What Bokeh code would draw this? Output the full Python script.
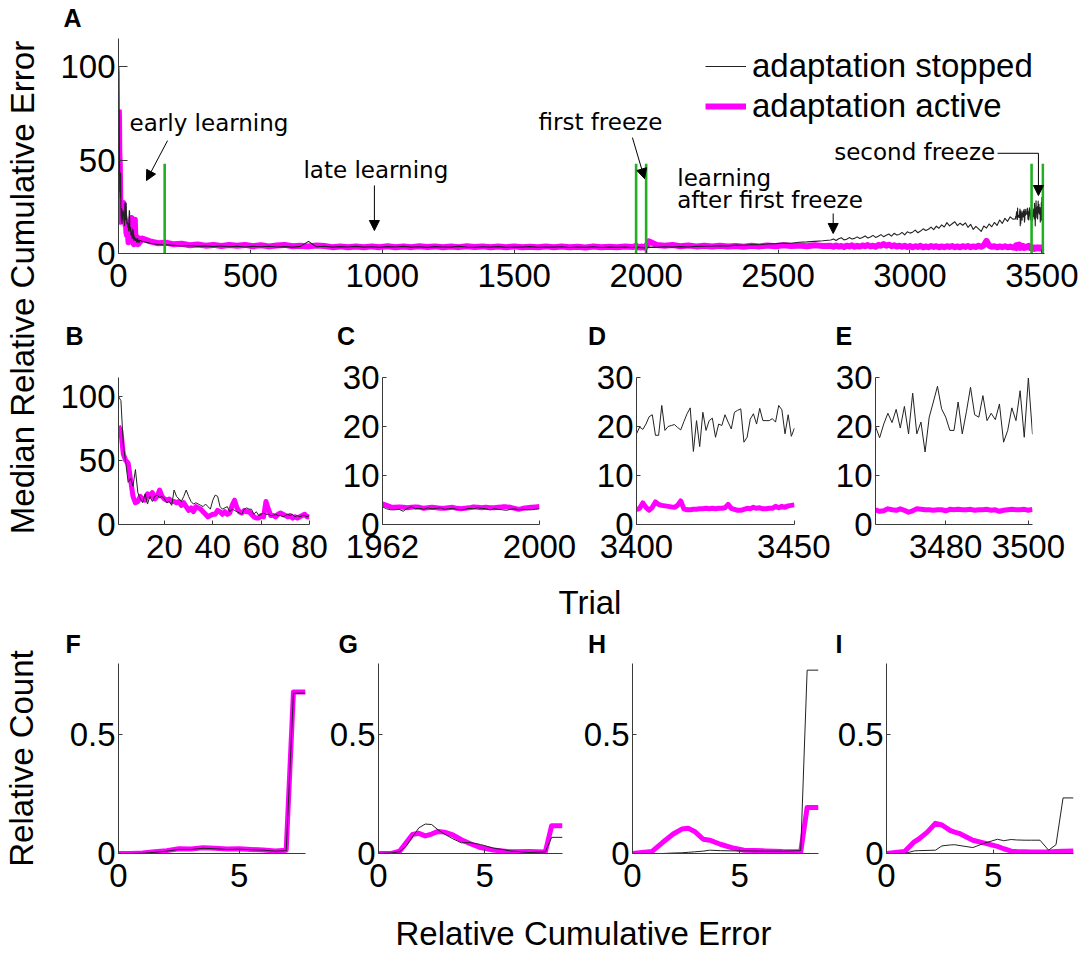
import numpy as np
from bokeh.plotting import figure
from bokeh.layouts import row, column
from bokeh.models import Range1d, FixedTicker, Legend, LegendItem, Arrow, NormalHead
from bokeh.core.properties import value
from bokeh.embed import file_html
from bokeh.resources import INLINE

# ---------------- data ----------------
# Panel B: trials 1-80 (median relative cumulative error)
b_trials = list(range(1, 81))
b_stopped = [100, 97, 62, 48, 33, 36, 30, 43, 25, 20,
             17, 24, 16, 22, 18, 22, 23, 21, 22, 20,
             17, 18, 15, 27, 22, 20, 18, 22, 27, 22,
             18, 16, 17, 16, 15, 14, 16, 14, 12, 19,
             23, 22, 14, 12, 13, 14, 10, 12, 11, 10,
             9, 8, 12, 13, 12, 12, 8, 10, 7, 8,
             9, 8, 8, 7, 7, 8, 7, 7, 6, 7,
             8, 7, 8, 6, 7, 6, 7, 7, 6, 7]
b_active = [77, 73, 55, 50, 48, 35, 22, 17, 18, 22,
            20, 19, 24, 22, 25, 20, 22, 27, 22, 20,
            19, 20, 18, 18, 17, 18, 15, 17, 14, 11,
            13, 10, 14, 13, 12, 10, 8, 6, 7, 8,
            8, 11, 10, 8, 10, 8, 9, 15, 19, 13,
            10, 9, 11, 10, 10, 8, 6, 5, 5, 7,
            6, 18, 12, 7, 7, 6, 8, 9, 8, 7,
            6, 7, 5, 6, 5, 6, 7, 8, 6, 6]

# Panel C: trials 1962-2000
c_trials = list(range(1962, 2001))
c_stopped = [3.6, 3.2, 3.0, 3.0, 3.1, 2.7, 3.3, 3.6, 3.2, 3.3,
             3.1, 3.4, 3.2, 3.3, 3.4, 3.1, 3.2, 3.3, 3.1, 3.0,
             3.1, 3.3, 3.2, 3.4, 3.3, 3.2, 3.0, 3.2, 3.1, 3.0,
             2.9, 3.1, 3.2, 3.0, 3.1, 3.0, 3.0, 3.1, 3.2]
c_active = [4.2, 3.9, 3.6, 3.5, 3.6, 3.5, 3.4, 3.5, 3.6, 3.5,
            3.3, 3.4, 3.5, 3.4, 3.3, 3.3, 3.4, 3.5, 3.3, 3.2,
            3.3, 3.4, 3.6, 3.5, 3.4, 3.5, 3.4, 3.4, 3.5, 3.6,
            3.6, 3.5, 3.3, 3.1, 3.3, 3.4, 3.5, 3.6, 3.7]

# Panel D: trials 3400-3450
d_trials = list(range(3400, 3451))
d_stopped = [18.5, 19.9, 19.4, 20.5, 22.0, 22.4, 18.2, 18.2, 24.3, 19.2,
             20.0, 20.2, 20.4, 19.8, 19.3, 21.0, 22.6, 23.8, 14.9, 21.2,
             15.9, 22.9, 19.2, 21.2, 21.7, 17.8, 20.5, 20.2, 22.4, 20.9,
             19.5, 22.9, 23.3, 23.6, 16.8, 17.8, 21.5, 22.6, 20.5, 23.7,
             21.2, 21.2, 21.2, 21.6, 20.9, 24.3, 23.4, 18.5, 22.4, 18.0,
             19.7]
d_active = [3.0, 3.3, 4.4, 3.5, 2.9, 3.5, 4.6, 4.1, 3.9, 3.8,
            3.7, 3.6, 3.5, 3.9, 4.8, 3.2, 3.0, 3.0, 3.1, 3.1,
            3.2, 3.2, 3.3, 3.2, 3.3, 3.2, 3.3, 3.3, 3.4, 4.1,
            3.3, 3.1, 2.9, 2.9, 3.1, 3.3, 3.2, 3.5, 3.3, 3.4,
            3.2, 3.2, 3.3, 3.3, 3.7, 3.4, 3.7, 3.5, 3.8, 3.9,
            4.0]

# Panel E: trials 3463-3501
e_trials = list(range(3463, 3502))
e_stopped = [20.0, 17.7, 20.5, 22.7, 20.8, 23.5, 19.7, 24.1, 18.5, 26.8,
             18.5, 20.9, 14.8, 21.9, 25.0, 28.2, 23.6, 21.9, 19.2, 19.2,
             25.0, 18.5, 23.0, 28.0, 22.4, 21.9, 26.3, 21.2, 22.7, 21.4,
             24.6, 16.8, 19.2, 23.8, 21.2, 27.3, 17.8, 29.9, 18.4]
e_active = [3.0, 2.7, 2.8, 3.2, 3.0, 2.9, 3.2, 2.9, 2.5, 2.8,
            3.2, 3.1, 3.0, 3.0, 2.9, 3.0, 3.0, 2.8, 3.1, 3.0,
            3.1, 3.0, 3.0, 3.1, 2.9, 3.0, 3.0, 3.1, 2.9, 3.0,
            2.7, 2.9, 3.0, 3.1, 3.0, 3.0, 3.1, 2.9, 3.1]

# Panel A extra segments (read at coarser spacing)
s1_trials = list(range(90, 1951, 30))
s1_stopped = [6.5, 5.5, 4.8, 4.6, 4.4, 4.0, 4.3, 3.8, 4.1, 3.7,
              4.0, 3.6, 3.9, 3.5, 3.8, 3.6, 3.9, 3.5, 3.7, 3.4,
              3.8, 6.5, 3.6, 3.9, 3.4, 3.7, 3.5, 3.8, 3.4, 3.6,
              3.3, 3.7, 3.5, 3.8, 3.4, 3.6, 3.3, 3.7, 3.5, 3.4,
              3.8, 3.5, 3.3, 3.6, 3.4, 3.7, 3.3, 3.5, 3.4, 3.7,
              3.3, 3.5, 3.4, 3.6, 3.2, 3.5, 3.3, 3.6, 3.2, 3.4,
              3.3, 3.5, 3.2]
s1_active = [8.0, 6.5, 5.5, 5.8, 4.9, 5.2, 4.4, 4.8, 4.2, 4.6,
             4.0, 4.5, 4.1, 4.6, 3.9, 4.4, 3.8, 4.3, 4.6, 3.9,
             4.2, 3.8, 4.3, 4.0, 3.4, 3.8, 3.3, 3.7, 3.3, 3.8,
             3.4, 3.9, 3.3, 3.7, 3.4, 3.9, 3.5, 3.8, 3.3, 3.7,
             3.4, 3.9, 3.5, 3.8, 3.3, 3.7, 3.4, 3.8, 3.3, 3.6,
             3.4, 3.8, 3.3, 3.7, 3.4, 3.6, 3.2, 3.7, 3.4, 3.6,
             3.3, 3.7, 3.5]
s2a_trials = list(range(2010, 2671, 30))
s2a_stopped = [3.4, 3.3, 3.6, 3.4, 3.7, 3.5, 3.8, 3.9, 4.0, 4.2,
               4.1, 4.5, 4.4, 4.8, 4.7, 5.1, 5.3, 5.6, 5.5, 6.0,
               6.2, 6.5, 6.8]
s2a_active = [6.5, 4.6, 4.2, 4.5, 3.9, 4.3, 3.8, 4.1, 3.7, 4.2,
              3.8, 4.0, 3.6, 4.1, 3.8, 4.3, 3.9, 4.4, 4.0, 4.3,
              3.9, 4.4, 4.0]
s2b_trials = list(range(2700, 3391, 10))
s2b_stopped = [7.2, 7.8, 7.0, 7.9, 8.4, 7.3, 7.6, 8.5, 7.8, 8.1,
               8.9, 8.0, 8.6, 9.4, 8.3, 8.8, 9.7, 8.6, 9.2, 10.1,
               9.0, 9.8, 10.4, 9.3, 10.8, 9.9, 10.2, 11.3, 10.0, 11.6,
               10.9, 11.4, 12.5, 11.1, 12.0, 13.2, 12.3, 13.0, 14.1, 12.8,
               14.6, 13.5, 15.3, 14.2, 16.5, 14.8, 15.9, 17.0, 14.9, 16.2,
               15.1, 16.4, 14.0, 15.6, 12.9, 14.5, 13.2, 11.8, 14.7, 13.6,
               15.8, 14.3, 16.6, 15.0, 17.9, 16.1, 18.8, 17.2, 19.6, 18.4]
s2b_active = [4.1, 3.6, 4.3, 3.7, 4.0, 3.5, 4.2, 3.8, 4.4, 3.6,
              4.1, 3.7, 4.3, 3.9, 4.5, 3.8, 4.2, 3.6, 4.6, 4.1,
              5.0, 4.2, 4.7, 3.9, 4.4, 3.7, 4.2, 3.6, 4.1, 3.5,
              4.0, 3.4, 3.9, 3.5, 4.1, 3.3, 3.8, 3.4, 4.0, 3.5,
              3.9, 3.3, 3.8, 3.4, 3.9, 3.5, 4.0, 3.4, 3.8, 3.3,
              3.9, 3.5, 4.0, 3.4, 3.8, 3.5, 4.1, 3.6, 4.4, 6.8,
              4.2, 3.6, 3.9, 3.3, 3.8, 3.4, 3.9, 3.3, 3.7, 3.2]
s3_trials = [3453, 3456, 3459]
s3_stopped = [24.5, 18.0, 23.5]
s3_active = [3.2, 2.9, 3.1]

freeze_trials = [175, 1962, 2000, 3461, 3504]
freeze_height = 48

# Histograms (relative count vs relative cumulative error)
f_bins = [0, 0.5, 1, 1.5, 2, 2.5, 3, 3.5, 4, 4.5, 5, 5.5, 6, 6.5, 6.95, 7.25, 7.75]
f_active = [0, 0, 0.002, 0.007, 0.012, 0.02, 0.019, 0.024, 0.022, 0.019, 0.02, 0.017, 0.015, 0.011, 0.014, 0.68, 0.68]
f_stopped = [0, 0, 0.001, 0.005, 0.01, 0.017, 0.017, 0.022, 0.02, 0.017, 0.018, 0.016, 0.014, 0.01, 0.012, 0.675, 0.675]

g_bins = [0, 0.6, 1.0, 1.3, 1.6, 1.9, 2.2, 2.5, 2.8, 3.1, 3.5, 3.9, 4.3, 4.8, 5.4, 6.2, 7.1, 7.85, 8.15, 8.66]
g_active = [0, 0, 0.01, 0.045, 0.08, 0.085, 0.074, 0.082, 0.093, 0.09, 0.078, 0.058, 0.042, 0.025, 0.015, 0.007, 0.008, 0.006, 0.117, 0.117]
g_stopped = [0, 0.002, 0.008, 0.03, 0.07, 0.108, 0.124, 0.122, 0.1, 0.082, 0.062, 0.045, 0.046, 0.038, 0.023, 0.011, 0.004, 0.007, 0.068, 0.068]

h_bins = [0, 0.9, 1.4, 1.9, 2.3, 2.6, 2.9, 3.3, 3.6, 4.1, 4.7, 5.2, 6.2, 7.0, 7.85, 8.15, 8.68]
h_active = [0, 0.008, 0.046, 0.082, 0.103, 0.106, 0.093, 0.06, 0.056, 0.039, 0.023, 0.014, 0.011, 0.008, 0.007, 0.194, 0.194]
h_stopped = [0, 0, 0, 0.002, 0.003, 0.005, 0.007, 0.01, 0.014, 0.012, 0.011, 0.011, 0.01, 0.01, 0.012, 0.772, 0.772]

i_bins = [0, 0.85, 1.3, 1.5, 1.9, 2.3, 2.6, 3.0, 3.2, 3.4, 4.05, 4.55, 5.2, 5.5, 5.85, 6.1, 6.5, 6.8, 7.2, 7.6, 7.95, 8.28, 8.77]
i_active = [0, 0.008, 0.049, 0.06, 0.089, 0.127, 0.12, 0.096, 0.09, 0.085, 0.056, 0.045, 0.03, 0.02, 0.01, 0.008, 0.007, 0.006, 0.006, 0.006, 0.008, 0.01, 0.011]
i_stopped = [0, 0, 0.011, 0.012, 0.013, 0.014, 0.032, 0.036, 0.037, 0.034, 0.025, 0.042, 0.06, 0.054, 0.059, 0.057, 0.056, 0.056, 0.056, 0.014, 0.037, 0.234, 0.234]

# Panel A series assembled from the segments above
a_trials = b_trials + s1_trials + c_trials + s2a_trials + s2b_trials + d_trials + s3_trials + e_trials
a_stopped = b_stopped + s1_stopped + c_stopped + s2a_stopped + s2b_stopped + d_stopped + s3_stopped + e_stopped
a_active = b_active + s1_active + c_active + s2a_active + s2b_active + d_active + s3_active + e_active

# ---------------- styling ----------------
FONT = "Liberation Sans"
ANN_FONT = "DejaVu Sans"
MAGENTA = "#ff00ff"
GREEN = "#22b022"
AXC = "#3a3a3a"
TICK_PX = "33px"
PANEL_PX = "25px"


def base_fig(w, h, l, r, t, b, xr, yr, xt, yt, tick_in_y=4):
    p = figure(width=w, height=h, x_range=Range1d(*xr), y_range=Range1d(*yr),
               output_backend="svg", toolbar_location=None,
               min_border_left=l, min_border_right=r, min_border_top=t, min_border_bottom=b)
    p.outline_line_color = None
    p.xgrid.visible = False
    p.ygrid.visible = False
    p.background_fill_color = "white"
    p.border_fill_color = "white"
    for ax in (p.xaxis[0], p.yaxis[0]):
        ax.axis_line_color = AXC
        ax.axis_line_width = 1
        ax.major_tick_line_color = AXC
        ax.major_tick_out = 0
        ax.minor_tick_line_color = None
        ax.major_label_text_font = FONT
        ax.major_label_text_font_size = TICK_PX
        ax.major_label_text_color = "black"
    p.xaxis[0].major_tick_in = 4
    p.yaxis[0].major_tick_in = tick_in_y
    p.xaxis[0].major_label_standoff = 10
    p.yaxis[0].major_label_standoff = 3
    p.xaxis[0].ticker = FixedTicker(ticks=xt)
    p.yaxis[0].ticker = FixedTicker(ticks=yt)
    return p


def text_fig(w, h, xs, ys, texts, size="33px", bold=False, align="center", angle=0.0):
    p = figure(width=w, height=h, x_range=Range1d(0, w), y_range=Range1d(0, h),
               output_backend="svg", toolbar_location=None, min_border=0,
               x_axis_location=None, y_axis_location=None)
    p.outline_line_color = None
    p.xgrid.visible = False
    p.ygrid.visible = False
    p.text(x=xs, y=ys, text=texts, angle=angle, text_align=align,
           text_baseline="middle", text_font=value(FONT), text_font_size=size,
           text_font_style="bold" if bold else "normal", text_color="black")
    return p


def draw_pair(p, xs, stopped, active, bw=1.0, aw=5):
    ra = p.line(xs, active, line_color=MAGENTA, line_width=aw, line_join="round")
    rs = p.line(xs, stopped, line_color="#222222", line_width=bw, line_join="round")
    return rs, ra


RW = 1032  # width of the right-hand column

# ---------------- Panel A ----------------
stripA = text_fig(RW, 33, [13], [15.5], ["A"], size=PANEL_PX, bold=True, align="left")

pA = base_fig(RW, 272, 68, 38, 5, 52, (0, 3510), (0, 115),
              [0, 500, 1000, 1500, 2000, 2500, 3000, 3500], [0, 50, 100], tick_in_y=9)
rs, ra = draw_pair(pA, a_trials, a_stopped, a_active, bw=1.1, aw=6)
pA.segment(x0=freeze_trials, y0=[0] * len(freeze_trials), x1=freeze_trials,
           y1=[freeze_height] * len(freeze_trials), line_color=GREEN, line_width=2.6)

legend = Legend(items=[LegendItem(label="adaptation stopped", renderers=[rs]),
                       LegendItem(label="adaptation active", renderers=[ra])],
                location=(587, 127))
legend.border_line_color = None
legend.background_fill_alpha = 0
legend.padding = 0
legend.margin = 0
legend.spacing = 0
legend.glyph_width = 41
legend.glyph_height = 40
legend.label_height = 40
legend.label_standoff = 6
legend.label_text_font = FONT
legend.label_text_font_size = "33px"
legend.label_text_color = "black"
pA.add_layout(legend)

ann_x = [42, 701, 1592, 2118, 2118, 2713]
ann_y = [69.9, 44.7, 70.4, 40.5, 28.7, 54.4]
ann_t = ["early learning", "late learning", "first freeze", "learning",
         "after first freeze", "second freeze"]
pA.text(x=ann_x, y=ann_y, text=ann_t, text_font=value(ANN_FONT), text_font_size="23px",
        text_align="left", text_baseline="middle", text_color="black")

arrows = [((186, 60.4), (106, 39)), ((970, 36.4), (970, 12.3)),
          ((1948, 62), (1994, 40)), ((2709, 21.4), (2709, 10.7)),
          ((3487, 53.6), (3487, 31))]
for (xs_, ys_), (xe_, ye_) in arrows:
    pA.add_layout(Arrow(end=NormalHead(size=10, fill_color="black", line_color="black", line_width=1),
                        x_start=xs_, y_start=ys_, x_end=xe_, y_end=ye_,
                        line_color="black", line_width=1))
pA.line(x=[3332, 3487], y=[53.6, 53.6], line_color="black", line_width=1)

# ---------------- Panels B-E ----------------
stripBE = text_fig(RW, 50, [15, 286.5, 537.5, 785], [19.5] * 4, ["B", "C", "D", "E"],
                   size=PANEL_PX, bold=True, align="left")

pB = base_fig(285, 225, 68, 26, 22, 56, (1, 80), (0, 115), [20, 40, 60, 80], [0, 50, 100])
draw_pair(pB, b_trials, b_stopped, b_active)

pC = base_fig(250, 225, 47, 46, 22, 56, (1962, 2000), (0, 30), [1962, 2000], [0, 10, 20, 30])
draw_pair(pC, c_trials, c_stopped, c_active)

pD = base_fig(245, 225, 51, 36, 22, 56, (3400, 3450), (0, 30), [3400, 3450], [0, 10, 20, 30])
draw_pair(pD, d_trials, d_stopped, d_active)

pE = base_fig(252, 225, 45, 50, 22, 56, (3463, 3501), (0, 30), [3480, 3500], [0, 10, 20, 30])
draw_pair(pE, e_trials, e_stopped, e_active)

trial_fig = text_fig(RW, 45, [508], [22.9], ["Trial"], align="left")

# ---------------- Panels F-I ----------------
stripFI = text_fig(RW, 35, [15, 288, 537.5, 785], [16.5] * 4, ["F", "G", "H", "I"],
                   size=PANEL_PX, bold=True, align="left")
hist_overrides = {0: "0", 0.5: "0.5"}


def hist_fig(w, l, r, xmax):
    p = base_fig(w, 241, l, r, 3, 48, (0, xmax), (0, 0.8), [0, 5], [0, 0.5])
    p.yaxis[0].major_label_overrides = hist_overrides
    return p


pF = hist_fig(270, 68, 15, 7.75)
draw_pair(pF, f_bins, f_stopped, f_active)
pG = hist_fig(255, 58, 13, 8.66)
draw_pair(pG, g_bins, g_stopped, g_active)
pH = hist_fig(253, 57, 10, 8.68)
draw_pair(pH, h_bins, h_stopped, h_active)
pI = hist_fig(254, 58, 9, 8.77)
draw_pair(pI, i_bins, i_stopped, i_active)

xlab_fig = text_fig(RW, 51, [345], [19], ["Relative Cumulative Error"], align="left")

# ---------------- shared y titles ----------------
lab1 = text_fig(50, 625, [22.1], [338], ["Median Relative Cumulative Error"], angle=np.pi / 2)
lab2 = text_fig(50, 327, [20.8], [194], ["Relative Count"], angle=np.pi / 2)

# pA is wrapped in its own row so that the text strips keep full-width frames
top = row(lab1, column(stripA, row(pA), stripBE, row(pB, pC, pD, pE), trial_fig))
bottom = row(lab2, column(stripFI, row(pF, pG, pH, pI), xlab_fig))
page = column(top, bottom)

open("out.html", "w").write(file_html(page, INLINE))
